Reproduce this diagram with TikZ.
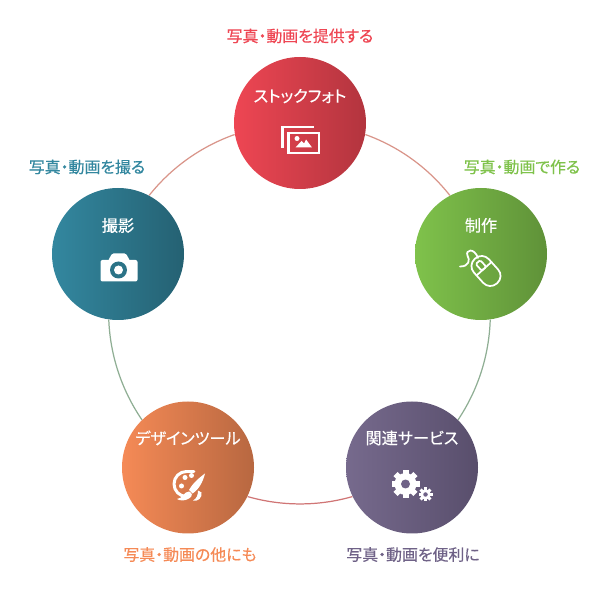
\documentclass[tikz,border=0pt]{standalone}
\usepackage{xcolor}
\usepackage{fontspec}
\setmainfont[RawFeature=+palt,FakeBold=0.4]{Noto Sans CJK JP}
\usepackage{tikz}
\usetikzlibrary{positioning, calc}

\definecolor{stockcol}{HTML}{EE4653}
\definecolor{makecol}{HTML}{7FC24B}
\definecolor{servicecol}{HTML}{6F6287}
\definecolor{designcol}{HTML}{F58A56}
\definecolor{shootcol}{HTML}{33879F}
\definecolor{ringpink}{HTML}{D9958A}
\definecolor{ringred}{HTML}{D07575}
\definecolor{ringgreen}{HTML}{8FAE94}

\begin{document}
\begin{tikzpicture}[
    hub/.style={circle, minimum size=2.64cm, inner sep=0pt, shading=axis, shading angle=90},
    hubtitle/.style={text=white, inner sep=0pt, font=\fontsize{9.2pt}{10pt}\selectfont},
    caption/.style={inner sep=0pt, font=\fontsize{9.05pt}{10pt}\selectfont},
    ringline/.style={line width=0.7pt, bend left=16, looseness=0.87},
    iconline/.style={draw=white, line width=1pt, line join=round, line cap=round}
]
\useasboundingbox (0,0) rectangle (12,12);

% Hubs
\node[hub, left color=stockcol, right color=stockcol!75!black] (stock) at (6.00,9.54) {};
\node[hub, left color=makecol, right color=makecol!75!black] (make) at (9.62,6.92) {};
\node[hub, left color=servicecol!95!white, right color=servicecol!80!black] (service) at (8.24,2.65) {};
\node[hub, left color=designcol, right color=designcol!75!black] (design) at (3.76,2.65) {};
\node[hub, left color=shootcol, right color=shootcol!72!black] (shoot) at (2.36,6.92) {};

% Ring
\draw[ringline, draw=ringpink] (stock.-10) to (make.118);
\draw[ringline, draw=ringgreen] (make.-82) to (service.46);
\draw[ringline, draw=ringred] (service.-154) to (design.-26);
\draw[ringline, draw=ringgreen] (design.134) to (shoot.-98);
\draw[ringline, draw=ringpink] (shoot.62) to (stock.190);

% Hub titles
\node[hubtitle, below=0.64cm of stock.north] (stocktitle) {ストックフォト};
\node[hubtitle, below=0.6cm of make.north] (maketitle) {制作};
\node[hubtitle, below=0.58cm of service.north] (servicetitle) {関連サービス};
\node[hubtitle, below=0.58cm of design.north] (designtitle) {デザインツール};
\node[hubtitle, below=0.6cm of shoot.north] (shoottitle) {撮影};

% Captions
\node[caption, text=stockcol, above=0.26cm of stock] (stockcaption) {写真・動画を提供する};
\node[caption, text=makecol, above=0.26cm of make, xshift=0.82cm] (makecaption) {写真・動画で作る};
\node[caption, text=servicecol, below=0.26cm of service, xshift=0.02cm] (servicecaption) {写真・動画を便利に};
\node[caption, text=designcol, below=0.26cm of design, xshift=0.04cm] (designcaption) {写真・動画の他にも};
\node[caption, text=shootcol, above=0.26cm of shoot, xshift=-0.62cm] (shootcaption) {写真・動画を撮る};

% Photo icon
\begin{scope}[shift={(stock.center)}]
\draw[iconline, line cap=butt, line join=miter, line width=1.3pt] (-.35,-.5) -- (-.35,-.08) -- (.28,-.08);
\draw[iconline, line cap=butt, line join=miter, line width=1.3pt] (-.23,-.2) rectangle (.38,-.6);
\fill[white] (-.06,-.31) circle (.05);
\fill[white] (-.09,-.49) -- (.03,-.36) -- (.08,-.41) -- (.12,-.33) -- (.24,-.49) -- cycle;
\end{scope}

% Mouse icon
\begin{scope}[shift={(make.center)}]
\draw[iconline] (-.42,-.25) .. controls (-.23,-.25) and (-.22,-.12) .. (-.27,-.03)
  .. controls (-.32,.08) and (-.14,.14) .. (-.06,-.08);
\begin{scope}[shift={(.1,-.34)}, rotate=42]
\draw[iconline, rounded corners=.19cm] (-.2,-.33) rectangle (.2,.33);
\draw[iconline] (-.2,.06) -- (.2,.06);
\draw[iconline, rounded corners=.03cm] (-.06,.06) rectangle (.06,.24);
\end{scope}
\end{scope}

% Gear icon
\begin{scope}[shift={(service.center)}]
\coordinate (biggear) at (-.13,-.33);
\coordinate (smallgear) at (.27,-.54);
\fill[white] (biggear) circle (.22);
\foreach \a in {0,45,...,315}
  \fill[white, shift={(biggear)}, rotate=\a] (-.06,0) rectangle (.06,.28);
\fill[servicecol] (biggear) circle (.09);
\fill[white] (smallgear) circle (.105);
\foreach \a in {0,45,...,315}
  \fill[white, shift={(smallgear)}, rotate=\a] (-.03,0) rectangle (.03,.14);
\fill[servicecol] (smallgear) circle (.045);
\end{scope}

% Palette icon
\begin{scope}[shift={(design.center)}]
\draw[iconline, line width=1.7pt] (-.03,-.58) arc (-90:-270:.25) -- (.12,-.08);
\fill[white] (-.06,-.2) circle (.05);
\fill[white] (.07,-.16) circle (.05);
\fill[white] (-.13,-.37) circle (.05);
\fill[white] (.34,-.12) .. controls (.2,-.22) and (.08,-.34) .. (.02,-.45) -- (.09,-.52)
  .. controls (.22,-.44) and (.3,-.28) .. cycle;
\fill[white] (-.22,-.63) .. controls (-.1,-.62) and (-.08,-.48) .. (.02,-.48)
  .. controls (.09,-.5) and (.1,-.58) .. (.02,-.62) .. controls (-.06,-.67) and (-.16,-.67) .. cycle;
\fill[white] (.1,-.66) .. controls (.18,-.62) and (.2,-.54) .. (.2,-.46) -- (.27,-.5)
  .. controls (.29,-.6) and (.2,-.69) .. cycle;
\end{scope}

% Camera icon
\begin{scope}[shift={(shoot.center)}]
\fill[white, rounded corners=.04cm] (-.35,-.55) rectangle (.39,-.12);
\fill[white, rounded corners=.03cm] (-.2,-.14) -- (-.12,.01) -- (.16,.01) -- (.24,-.14) -- cycle;
\fill[shootcol!85!black] (.01,-.32) circle (.17);
\fill[white] (.01,-.32) circle (.09);
\end{scope}

\end{tikzpicture}
\end{document}
